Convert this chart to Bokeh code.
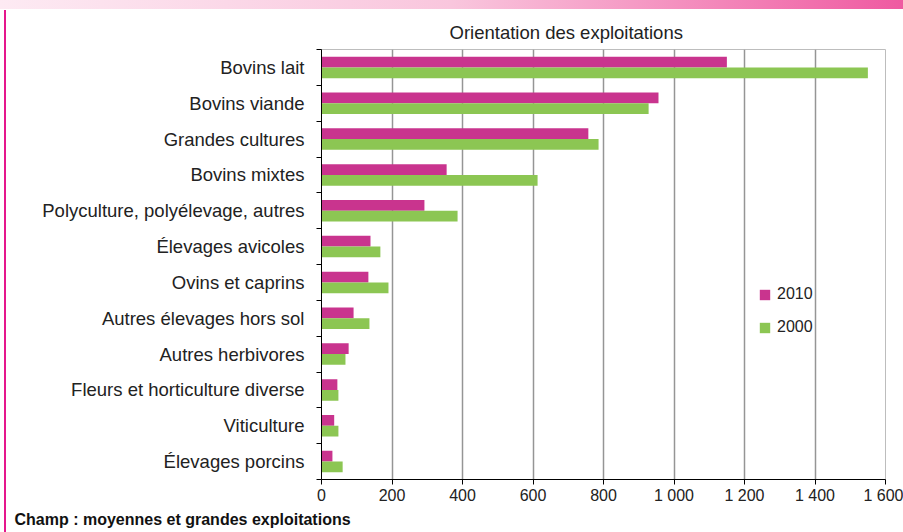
from bokeh.plotting import figure
from bokeh.models import (ColumnDataSource, FixedTicker, Range1d, Title, Legend, LegendItem, Div)
from bokeh.layouts import column
from bokeh.embed import file_html
from bokeh.resources import INLINE

# ---- data (top to bottom) ----
categories = [
    "Bovins lait", "Bovins viande", "Grandes cultures", "Bovins mixtes",
    "Polyculture, polyélevage, autres", "Élevages avicoles", "Ovins et caprins",
    "Autres élevages hors sol", "Autres herbivores", "Fleurs et horticulture diverse",
    "Viticulture", "Élevages porcins",
]
values_2010 = [1150, 956, 757, 355, 292, 139, 133, 91, 77, 45, 36, 31]
values_2000 = [1550, 928, 786, 613, 386, 167, 190, 136, 68, 48, 48, 60]
series_names = ["2010", "2000"]
x_ticks = [0, 200, 400, 600, 800, 1000, 1200, 1400, 1600]
x_tick_labels = ["0", "200", "400", "600", "800", "1 000", "1 200", "1 400", "1 600"]
title_text = "Orientation des exploitations"
note_text = "Champ : moyennes et grandes exploitations"

FONT = "Liberation Sans"
C2010 = "#C9348E"
C2000 = "#8CC653"

n = len(categories)
centers = [n - 1 - i + 0.5 for i in range(n)]
off = 0.15
src = ColumnDataSource(dict(
    cat=categories,
    y2010=[c + off for c in centers],
    y2000=[c - off for c in centers],
    v2010=values_2010,
    v2000=values_2000,
))

p = figure(width=903, height=531, output_backend="svg", toolbar_location=None,
           x_range=Range1d(0, 1600), y_range=Range1d(0, n),
           min_border_left=321, min_border_right=18, min_border_top=49, min_border_bottom=52)
p.background_fill_color = "white"
p.border_fill_color = "white"
p.outline_line_color = "#bdbdbd"
p.outline_line_width = 1

p.title.text = title_text
p.title.align = "left"
p.title.offset = 128
p.title.text_font = FONT
p.title.text_font_size = "18.5px"
p.title.text_font_style = "normal"
p.title.text_color = "#222222"
p.title.standoff = 14

r1 = p.hbar(y="y2010", right="v2010", left=0, height=0.3, source=src,
            fill_color=C2010, line_color=None)
r2 = p.hbar(y="y2000", right="v2000", left=0, height=0.3, source=src,
            fill_color=C2000, line_color=None)

# x axis
p.xaxis.ticker = FixedTicker(ticks=x_ticks)
p.xaxis.major_label_overrides = {t: l for t, l in zip(x_ticks, x_tick_labels)}
p.xaxis.major_label_text_font = FONT
p.xaxis.major_label_text_font_size = "16px"
p.xaxis.major_label_text_color = "#222222"
p.xaxis.major_tick_out = 5
p.xaxis.major_tick_in = 0
p.xaxis.minor_tick_line_color = None
p.xaxis.axis_line_color = "black"
p.xaxis.major_tick_line_color = "black"
p.xaxis.major_label_standoff = 2

# y axis: labels at category centers, ticks between categories
p.yaxis.ticker = FixedTicker(ticks=centers, minor_ticks=list(range(n + 1)))
p.yaxis.major_label_overrides = {c: cat for c, cat in zip(centers, categories)}
p.yaxis.major_label_text_font = FONT
p.yaxis.major_label_text_font_size = "18.5px"
p.yaxis.major_label_text_color = "#222222"
p.yaxis.major_tick_line_color = None
p.yaxis.major_tick_out = 0
p.yaxis.major_tick_in = 0
p.yaxis.minor_tick_line_color = "black"
p.yaxis.minor_tick_out = 5
p.yaxis.minor_tick_in = 0
p.yaxis.axis_line_color = "black"
p.yaxis.major_label_standoff = 12

p.xgrid.ticker = FixedTicker(ticks=x_ticks)
p.xgrid.grid_line_color = "#959595"
p.xgrid.grid_line_width = 1.5
p.ygrid.grid_line_color = None

legend = Legend(items=[LegendItem(label=series_names[0], renderers=[r1]),
                       LegendItem(label=series_names[1], renderers=[r2])],
                location=(437, 143), orientation="vertical")
legend.border_line_color = None
legend.background_fill_alpha = 0
legend.padding = 0
legend.margin = 0
legend.spacing = 15
legend.glyph_width = 13
legend.glyph_height = 13
legend.label_height = 13
legend.label_standoff = 6
legend.label_text_font = FONT
legend.label_text_font_size = "16px"
legend.label_text_color = "#222222"
legend.label_text_baseline = "middle"
p.add_layout(legend)

note = Title(text=note_text, align="left", offset=-307, text_font=FONT,
             text_font_size="16px", text_font_style="bold", text_color="#111111",
             standoff=4)
p.add_layout(note, "below")

deco = Div(text=(
    '<div style="position:fixed;top:0;left:0;width:903px;height:9px;'
    'background:linear-gradient(to right,#fdeaf3 0%,#f9c6dd 50%,#ef5aa1 100%);"></div>'
    '<div style="position:fixed;top:10px;left:4px;width:2px;height:522px;background:#e5178c;"></div>'
), width=1, height=1)

layout = column(p, deco, spacing=0)
open("out.html", "w").write(file_html(layout, INLINE))
